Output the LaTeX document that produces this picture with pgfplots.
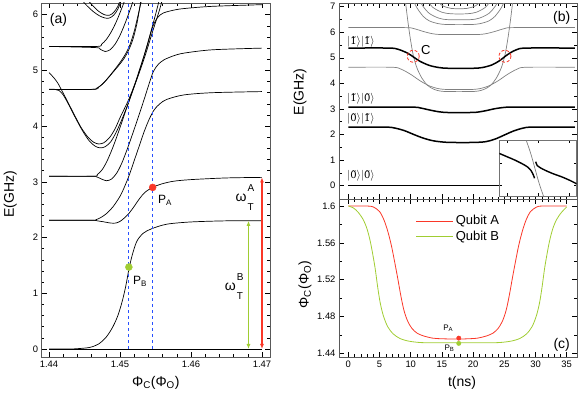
\documentclass[border=0pt]{standalone}
\usepackage{amsmath}
\usepackage{fontspec}
\setmainfont{Liberation Sans}
\newfontfamily\ketfont{DejaVu Serif}
\usepackage{pgfplots}
\pgfplotsset{compat=1.18}
\usetikzlibrary{arrows.meta}

\definecolor{qred}{RGB}{250,55,40}
\definecolor{qgreen}{RGB}{160,205,50}
\definecolor{qblue}{RGB}{40,80,255}

\pgfplotsset{
  panel/.style={
    scale only axis,
    axis line style={black!65, line width=0.9pt},
    tick style={black, line width=0.5pt},
    major tick length=5pt, minor tick length=2.8pt,
    tick label style={font=\fontsize{9.4}{11}\selectfont},
    /pgf/number format/assume math mode=true,
    label style={font=\fontsize{14}{16}\selectfont},
  },
  lv/.style={black, line width=0.7pt, smooth},
  bk/.style={black, line width=1.5pt, smooth},
  gr/.style={black!50, line width=0.7pt, smooth},
}
\tikzset{ket/.style={anchor=west, inner sep=0pt, font=\fontsize{11}{12}\selectfont}}
% ket with a tilded digit: |n~>
\newcommand{\kt}[1]{$|${\ketfont\fontsize{10}{12}\selectfont #1\char"0303}$\rangle$}
% omega with stacked super- and subscript
\newcommand{\om}[2]{ω\kern1pt\begin{tabular}[c]{@{}l@{}}\fontsize{10}{12}\selectfont #1\\[3pt]\fontsize{10}{12}\selectfont #2\end{tabular}}

\begin{document}
\begin{tikzpicture}
\path[use as bounding box] (0pt,0pt) rectangle (581pt,399pt);

% ---------------- (a) ----------------
\begin{axis}[panel, at={(41.7pt,42pt)}, anchor=south west,
  width=228.3pt, height=354pt,
  xmin=1.43897, xmax=1.47113, ymin=-0.144, ymax=6.21,
  xtick={1.44,1.45,1.46,1.47}, ytick={0,1,2,3,4,5,6},
  minor x tick num=4, minor y tick num=4,
  xticklabel style={/pgf/number format/.cd, fixed, precision=2},
  scaled x ticks=false,
  xlabel={Φ\textsubscript{C}(Φ\textsubscript{O})}, ylabel={E(GHz)},
  xlabel style={at={(axis description cs:0.5,-0.072)}, anchor=center},
  ylabel style={at={(axis description cs:-0.138,0.46)}, anchor=center},
]
\addplot[lv] coordinates {(1.44,0) (1.47,0)};
\addplot[lv] coordinates {(1.44,0) (1.4430,0.0) (1.4445,0.01) (1.4458,0.03) (1.4470,0.09) (1.4481,0.22) (1.4490,0.40) (1.4497,0.60) (1.4503,0.85) (1.4508,1.12) (1.4513,1.46) (1.4518,1.72) (1.4524,1.94) (1.4533,2.08) (1.4545,2.16) (1.4566,2.24) (1.4600,2.28) (1.4650,2.30) (1.47,2.30)};
\addplot[lv] coordinates {(1.44,2.31) (1.4460,2.31) (1.4468,2.30) (1.4478,2.28) (1.4487,2.26) (1.4494,2.26) (1.4500,2.29) (1.4506,2.35) (1.4513,2.44) (1.4520,2.56) (1.4527,2.69) (1.4535,2.81) (1.4546,2.90) (1.4558,2.96) (1.4575,3.01) (1.4600,3.04) (1.4650,3.07) (1.47,3.08)};
\addplot[lv] coordinates {(1.44,2.31) (1.4460,2.31) (1.4466,2.32) (1.4473,2.36) (1.4481,2.43) (1.4490,2.55) (1.4500,2.74) (1.4506,2.90) (1.4513,3.12) (1.4520,3.38) (1.4527,3.64) (1.4534,3.90) (1.4541,4.12) (1.4548,4.29) (1.4556,4.40) (1.4566,4.48) (1.4590,4.56) (1.4630,4.60) (1.47,4.62)};
\addplot[lv] coordinates {(1.44,3.10) (1.4460,3.10) (1.4467,3.09) (1.4474,3.05) (1.4481,3.02) (1.4488,3.05) (1.4495,3.15) (1.4502,3.32) (1.4510,3.58) (1.4518,3.87) (1.4526,4.17) (1.4534,4.48) (1.4541,4.76) (1.4547,4.98) (1.4554,5.11) (1.4562,5.19) (1.4575,5.26) (1.4590,5.31) (1.4630,5.37) (1.47,5.40)};
\addplot[lv] coordinates {(1.44,3.10) (1.4462,3.10) (1.4468,3.13) (1.4475,3.22) (1.4482,3.38) (1.4490,3.62) (1.4498,3.90) (1.4506,4.20) (1.4514,4.50) (1.4522,4.80) (1.4530,5.11) (1.4538,5.43) (1.4546,5.78) (1.4553,5.95) (1.4561,6.03) (1.4575,6.08) (1.4590,6.11) (1.4630,6.15) (1.47,6.18)};
\addplot[lv] coordinates {(1.44,4.96) (1.4406,4.88) (1.4412,4.78) (1.4418,4.64) (1.4425,4.47) (1.4435,4.22) (1.4445,3.98) (1.4455,3.80) (1.4463,3.71) (1.4470,3.68) (1.4477,3.70) (1.4485,3.79) (1.4493,3.95) (1.4500,4.15) (1.4512,4.47) (1.4524,4.85) (1.4535,5.25) (1.4546,5.70) (1.4556,6.10) (1.4560,6.30)};
\addplot[lv] coordinates {(1.44,4.66) (1.4408,4.66) (1.4414,4.64) (1.4420,4.56) (1.4428,4.38) (1.4438,4.13) (1.4448,3.90) (1.4457,3.73) (1.4465,3.64) (1.4472,3.61) (1.4479,3.63) (1.4487,3.72) (1.4495,3.90) (1.4503,4.13) (1.4512,4.42) (1.4522,4.78) (1.4532,5.18) (1.4541,5.58) (1.4550,6.00) (1.4556,6.30)};
\addplot[lv] coordinates {(1.44,4.66) (1.4460,4.66) (1.4467,4.68) (1.4475,4.75) (1.4483,4.86) (1.4491,4.98) (1.4499,5.10) (1.4506,5.22) (1.4512,5.36) (1.4518,5.55) (1.4524,5.85) (1.4530,6.30)};
\addplot[lv] coordinates {(1.44,4.66) (1.4462,4.66) (1.4470,4.70) (1.4478,4.79) (1.4486,4.91) (1.4494,5.04) (1.4501,5.16) (1.4508,5.30) (1.4514,5.46) (1.4520,5.70) (1.4526,6.02) (1.4531,6.30)};
\addplot[lv] coordinates {(1.44,5.43) (1.4465,5.41) (1.4472,5.38) (1.4479,5.34) (1.4486,5.37) (1.4493,5.47) (1.4500,5.63) (1.4507,5.84) (1.4514,6.08) (1.4520,6.30)};
\addplot[lv] coordinates {(1.44,5.43) (1.4467,5.43) (1.4474,5.47) (1.4481,5.56) (1.4488,5.70) (1.4495,5.88) (1.4502,6.10) (1.4508,6.30)};
\addplot[lv] coordinates {(1.4444,6.30) (1.4452,6.18) (1.4462,6.06) (1.4471,5.98) (1.4479,5.94) (1.4485,5.94) (1.4491,5.99) (1.4497,6.10) (1.4503,6.30)};
\addplot[lv] coordinates {(1.4452,6.30) (1.4461,6.17) (1.4470,6.06) (1.4478,6.00) (1.4485,5.99) (1.4491,6.04) (1.4497,6.15) (1.4501,6.30)};
% marker lines
\addplot[qblue, dashed, line width=1.0pt] coordinates {(1.4546,0) (1.4546,6.3)};
\addplot[qblue, dashed, line width=1.0pt] coordinates {(1.45125,0) (1.45125,6.3)};
% transition arrows
\addplot[qred, line width=1.1pt, {Latex[length=5pt,width=4pt]}-{Latex[length=5pt,width=4pt]}] coordinates {(1.4700,0) (1.4700,3.08)};
\addplot[qgreen, line width=1.1pt, {Latex[length=5pt,width=4pt]}-{Latex[length=5pt,width=4pt]}] coordinates {(1.4681,0) (1.4681,2.30)};
\addplot[only marks, mark=*, mark size=3.5pt, qred] coordinates {(1.4546,2.90)};
\addplot[only marks, mark=*, mark size=3.5pt, qgreen] coordinates {(1.45125,1.47)};
\node[font=\fontsize{12}{14}\selectfont] at (axis cs:1.45634,2.67) {P\textsubscript{A}};
\node[font=\fontsize{12}{14}\selectfont] at (axis cs:1.45282,1.22) {P\textsubscript{B}};
\node[font=\fontsize{14}{16}\selectfont, inner sep=0pt] at (axis cs:1.4676,2.72) {\om{A}{T}};
\node[font=\fontsize{14}{16}\selectfont, inner sep=0pt] at (axis cs:1.4661,1.11) {\om{B}{T}};
\node[font=\fontsize{14}{16}\selectfont] at (axis cs:1.44134,5.91) {(a)};
\end{axis}

% ---------------- (b) ----------------
\begin{axis}[panel, at={(339pt,199.5pt)}, anchor=south west,
  width=238pt, height=196.2pt,
  xmin=-1.5, xmax=36.65, ymin=-0.54, ymax=7.13,
  xtick={0,5,...,35}, xticklabels={}, minor x tick num=4,
  ytick={0,1,...,7}, minor y tick num=1,
  ylabel={E(GHz)},
  ylabel style={at={(axis description cs:-0.164,0.548)}, anchor=center},
]
% nested upper levels
\addplot[gr] coordinates {(10.3,7.3) (11,6.95) (12,6.62) (13,6.44) (14.5,6.33) (16,6.30) (19.5,6.30) (21,6.33) (22.5,6.44) (23.5,6.62) (24.5,6.95) (25.2,7.3)};
\addplot[gr] coordinates {(11.3,7.3) (12,7.0) (13,6.73) (14.5,6.55) (16,6.49) (19.5,6.49) (21,6.55) (22.5,6.73) (23.5,7.0) (24.2,7.3)};
\addplot[gr] coordinates {(12.5,7.3) (13.5,6.98) (15,6.78) (16.5,6.72) (19,6.72) (20.5,6.78) (22,6.98) (23,7.3)};
\addplot[gr] coordinates {(14,7.3) (15,7.05) (16.5,6.93) (19,6.93) (20.5,7.05) (21.5,7.3)};
\addplot[gr] coordinates {(0,6.18) (9,6.18) (10.5,6.14) (12,6.03) (13.5,5.94) (15,5.91) (20.5,5.91) (22,5.94) (23.5,6.03) (25,6.14) (26.5,6.18) (36.3,6.18)};
\addplot[gr] coordinates {(0,4.63) (7,4.63) (8.5,4.55) (10,4.35) (11.5,4.1) (13,3.9) (14.5,3.79) (16,3.76) (19.5,3.76) (21,3.79) (22.5,3.9) (24,4.1) (25.5,4.35) (27,4.55) (28.5,4.63) (36.3,4.63)};
\addplot[gr] coordinates {(9.1,7.3) (9.5,6.5) (9.9,5.8) (10.4,5.1) (11.0,4.6) (11.8,4.2) (12.7,3.92) (13.7,3.77) (14.7,3.70) (16,3.68) (19.5,3.68) (20.8,3.70) (21.8,3.77) (22.8,3.92) (23.7,4.2) (24.5,4.6) (25.1,5.1) (25.6,5.8) (26.0,6.5) (26.4,7.3)};
% two-qubit levels
\addplot[bk] coordinates {(0,0) (36.3,0)};
\addplot[bk] coordinates {(0,2.29) (6,2.29) (7.5,2.25) (9,2.15) (10.5,2.0) (12,1.86) (13.5,1.76) (15,1.71) (16.5,1.69) (20,1.69) (22,1.72) (23.5,1.82) (25,1.98) (26.5,2.14) (28,2.25) (29.5,2.29) (36.3,2.29)};
\addplot[bk] coordinates {(0,3.07) (10,3.07) (11.5,3.04) (13,2.96) (14.5,2.89) (16,2.86) (19,2.86) (20.5,2.87) (22,2.93) (23.5,3.01) (25,3.06) (26.5,3.07) (36.3,3.07)};
\addplot[bk] coordinates {(0,5.38) (6.5,5.38) (8,5.33) (9.5,5.18) (10.5,5.02) (11.5,4.86) (13,4.7) (14.5,4.62) (16,4.59) (20,4.59) (21.5,4.62) (23,4.72) (24.2,4.88) (25.1,5.05) (26,5.2) (27,5.32) (28.5,5.38) (36.3,5.38)};
\addplot[only marks, mark=o, mark size=6pt, mark options={qred, densely dashed, line width=0.8pt}] coordinates {(10.4,5.06) (25.1,5.06)};
\node[ket] at (axis cs:-0.2,5.63) {\kt{1}\kt{1}};
\node[ket] at (axis cs:-0.2,3.40) {\kt{1}\kt{0}};
\node[ket] at (axis cs:-0.2,2.60) {\kt{0}\kt{1}};
\node[ket] at (axis cs:-0.2,0.40) {\kt{0}\kt{0}};
\node[font=\fontsize{13}{15}\selectfont] at (axis cs:12.4,5.32) {C};
\node[font=\fontsize{14}{16}\selectfont] at (axis cs:34.2,6.56) {(b)};
\end{axis}

% inset
\begin{axis}[at={(499.3pt,203pt)}, anchor=south west, scale only axis,
  width=77.4pt, height=55.3pt, xmin=0, xmax=1, ymin=0, ymax=1,
  xtick={0.1,0.5,0.9}, ytick={0.2,0.6}, xticklabels={}, yticklabels={},
  major tick length=2.5pt, tick style={black},
  axis line style={black!55, line width=0.9pt},
  axis background/.style={fill=white},
]
\addplot[gr] coordinates {(0.35,1.0) (0.41,0.75) (0.46,0.5) (0.51,0.25) (0.57,0)};
\addplot[black, line width=1.4pt, smooth] coordinates {(0,0.77) (0.1,0.71) (0.2,0.65) (0.3,0.58) (0.37,0.52) (0.41,0.46) (0.44,0.38) (0.455,0.32)};
\addplot[black, line width=1.4pt, smooth] coordinates {(0.47,0.62) (0.49,0.55) (0.53,0.51) (0.6,0.46) (0.7,0.40) (0.8,0.35) (0.9,0.29) (1.0,0.22)};
\end{axis}

% ---------------- (c) ----------------
\begin{axis}[panel, at={(339pt,42pt)}, anchor=south west,
  width=238pt, height=157.5pt,
  xmin=-1.5, xmax=36.65, ymin=1.436, ymax=1.6071,
  xtick={0,5,...,35}, minor x tick num=4,
  ytick={1.44,1.48,1.52,1.56,1.6}, minor y tick num=1,
  yticklabel style={/pgf/number format/.cd, fixed, precision=2},
  scaled y ticks=false,
  xlabel={t(ns)}, ylabel={Φ\textsubscript{C}(Φ\textsubscript{O})},
  xlabel style={at={(axis description cs:0.517,-0.166)}, anchor=center},
  ylabel style={at={(axis description cs:-0.143,0.46)}, anchor=center},
  legend style={at={(0.31,0.925)}, anchor=north west, draw=none, fill=none,
    font=\fontsize{13}{15}\selectfont, row sep=1pt},
  legend cell align=left,
  legend image code/.code={\draw[#1] (0pt,0pt) -- (37pt,0pt);},
]
\addplot[qred, line width=0.8pt, smooth] coordinates {(0,1.6) (3,1.6) (4,1.599) (5,1.594) (5.7,1.585) (6.3,1.573) (6.9,1.557) (7.4,1.540) (7.9,1.522) (8.4,1.503) (8.9,1.487) (9.5,1.475) (10.2,1.467) (11,1.462) (12,1.459) (13.5,1.4565) (15,1.4558) (17.5,1.4555) (19.2,1.4558) (20.7,1.4565) (22.2,1.459) (23.2,1.462) (24.0,1.467) (24.7,1.475) (25.3,1.487) (25.8,1.503) (26.3,1.522) (26.8,1.540) (27.3,1.557) (27.9,1.573) (28.5,1.585) (29.2,1.594) (30.2,1.599) (31.2,1.6) (35,1.6)};
\addlegendentry{Qubit A}
\addplot[qgreen, line width=0.8pt, smooth] coordinates {(0,1.6) (0.8,1.598) (1.6,1.593) (2.4,1.585) (3.0,1.575) (3.5,1.562) (3.9,1.548) (4.3,1.532) (4.7,1.512) (5.1,1.495) (5.6,1.481) (6.3,1.469) (7.2,1.461) (8.3,1.456) (9.5,1.4535) (11,1.452) (13,1.4515) (22.75,1.4515) (24.75,1.452) (26.25,1.4535) (27.45,1.456) (28.55,1.461) (29.45,1.469) (30.15,1.481) (30.65,1.495) (31.05,1.512) (31.45,1.532) (31.85,1.548) (32.25,1.562) (32.75,1.575) (33.35,1.585) (34.15,1.593) (35,1.599)};
\addlegendentry{Qubit B}
\addplot[only marks, mark=*, mark size=2.2pt, qred, forget plot] coordinates {(17.7,1.4565)};
\addplot[only marks, mark=*, mark size=2.2pt, qgreen, forget plot] coordinates {(17.7,1.4508)};
\node[font=\fontsize{8}{9}\selectfont] at (axis cs:16.0,1.4672) {P\textsubscript{A}};
\node[font=\fontsize{8}{9}\selectfont] at (axis cs:16.2,1.4455) {P\textsubscript{B}};
\node[font=\fontsize{14}{16}\selectfont] at (axis cs:34.2,1.449) {(c)};
\end{axis}
\end{tikzpicture}
\end{document}
